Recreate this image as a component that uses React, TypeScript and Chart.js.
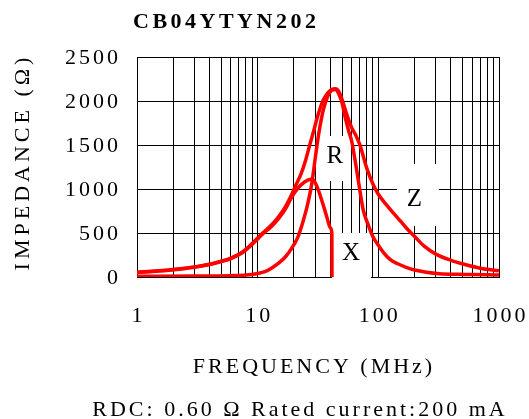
import React, { useEffect, useRef } from 'react';
import { Chart, registerables } from 'chart.js';

Chart.register(...registerables);

const chartTitle = 'CB04YTYN202';
const xAxisTitle = 'FREQUENCY (MHz)';
const yAxisTitle = 'IMPEDANCE (Ω)';
const footNote = 'RDC: 0.60 Ω Rated current:200 mA';

const xTickValues = [1, 10, 100, 1000];
const xTickLabels = ['1', '10', '100', '1000'];
const yTickValues = [0, 500, 1000, 1500, 2000, 2500];
const yTickLabels = ['0', '500', '1000', '1500', '2000', '2500'];
const xGridValues = [
  1, 2, 3, 4, 5, 6, 7, 8, 9,
  10, 20, 30, 40, 50, 60, 70, 80, 90,
  100, 200, 300, 400, 500, 600, 700, 800, 900, 1000,
];

// Z (impedance)
const zFreq = [1, 1.5, 2, 3, 4, 5, 6, 7.5, 9, 11, 13, 15, 17, 19, 21, 23, 25, 27, 29, 31, 33, 35, 38, 41, 44, 47, 50, 55, 60, 65, 70, 80, 90, 100, 120, 145, 170, 200, 240, 300, 400, 500, 700, 1000];
const zValues = [55, 70, 85, 115, 145, 180, 215, 285, 380, 500, 590, 690, 800, 930, 1060, 1180, 1330, 1500, 1650, 1800, 1920, 2010, 2090, 2130, 2140, 2110, 2020, 1840, 1700, 1610, 1510, 1240, 1060, 940, 800, 670, 560, 460, 350, 260, 190, 150, 100, 70];

// R (resistance)
const rFreq = [1, 3, 6, 8, 10, 11.5, 13, 15, 17, 19, 21.5, 24, 26, 28, 30, 32, 35, 38, 41, 44, 47, 50, 53, 57, 60, 65, 70, 75, 82, 90, 100, 110, 125, 145, 170, 200, 250, 320, 450, 600, 800, 1000];
const rValues = [8, 10, 15, 22, 40, 60, 100, 160, 230, 320, 450, 650, 830, 1050, 1350, 1620, 1900, 2050, 2120, 2130, 2080, 1980, 1820, 1650, 1550, 1280, 1000, 760, 600, 460, 360, 280, 200, 150, 110, 80, 55, 38, 30, 28, 25, 22];

// X (reactance)
const xFreq = [1, 1.5, 2, 3, 4, 5, 6, 7.5, 9, 11, 13, 15, 17, 19, 21, 23, 26, 28, 30, 32, 34, 36, 38, 40, 41.2, 41.3];
const xValues = [52, 68, 83, 112, 142, 176, 210, 278, 370, 488, 575, 670, 775, 900, 990, 1050, 1100, 1110, 1070, 980, 870, 760, 650, 560, 500, 0];

const curveLabels = ['R', 'Z', 'X'];
const labelFreq = [43.7, 199, 59.3];
const labelImpedance = [1386, 892, 278];

const RED = '#ff0000';

function toPoints(fs: number[], vs: number[]) {
  return fs.map((f, i) => ({ x: f, y: vs[i] }));
}

export default function App() {
  const canvasRef = useRef<HTMLCanvasElement | null>(null);

  useEffect(() => {
    const canvas = canvasRef.current;
    if (!canvas) return;

    const labelBoxPlugin = {
      id: 'labelBoxes',
      beforeDatasetsDraw(chart: any) {
        const { ctx } = chart;
        const xs = chart.scales.x;
        const ys = chart.scales.y;
        // box extents relative to text centre: left, top, right, bottom
        const boxes = [
          [-17, -19, 16, 26],
          [-17.5, -34.5, 24.5, 27.5],
          [-19, -19.5, 20, 28.5],
        ];
        ctx.save();
        curveLabels.forEach((lab, i) => {
          const px = xs.getPixelForValue(labelFreq[i]);
          const py = ys.getPixelForValue(labelImpedance[i]);
          const b = boxes[i];
          ctx.fillStyle = '#ffffff';
          ctx.fillRect(px + b[0], py + b[1], b[2] - b[0], b[3] - b[1]);
          ctx.fillStyle = '#000000';
          ctx.font = '25px "Liberation Serif"';
          ctx.textAlign = 'center';
          ctx.textBaseline = 'middle';
          ctx.fillText(lab, px, py + 1);
        });
        ctx.restore();
      },
    };

    const textPlugin = {
      id: 'texts',
      afterDraw(chart: any) {
        const { ctx } = chart;
        const xs = chart.scales.x;
        const ys = chart.scales.y;
        ctx.save();
        ctx.fillStyle = '#000000';
        ctx.font = '22px "Liberation Serif"';
        (ctx as any).letterSpacing = '3px';
        ctx.textBaseline = 'middle';
        ctx.textAlign = 'right';
        yTickValues.forEach((v, i) => {
          ctx.fillText(yTickLabels[i], 121, ys.getPixelForValue(v) + 1);
        });
        ctx.textAlign = 'center';
        xTickValues.forEach((v, i) => {
          ctx.fillText(xTickLabels[i], xs.getPixelForValue(v) + 1.5, 316);
        });
        ctx.fillText(xAxisTitle, 314, 367);
        ctx.fillText(footNote, 300, 410);
        ctx.save();
        (ctx as any).letterSpacing = '4px';
        ctx.translate(23, 162);
        ctx.rotate(-Math.PI / 2);
        ctx.fillText(yAxisTitle, 0, 0);
        ctx.restore();
        ctx.font = 'bold 22px "Liberation Serif"';
        (ctx as any).letterSpacing = '3.5px';
        ctx.textAlign = 'left';
        ctx.fillText(chartTitle, 133, 22);
        ctx.restore();
      },
    };

    const mk = (fs: number[], vs: number[], label: string) => ({
      label,
      data: toPoints(fs, vs),
      borderColor: RED,
      backgroundColor: RED,
      borderWidth: 3.5,
      pointRadius: 0,
      fill: false,
      cubicInterpolationMode: 'monotone' as const,
    });

    const chart = new Chart(canvas, {
      type: 'line',
      data: {
        datasets: [
          mk(zFreq, zValues, 'Z'),
          mk(rFreq, rValues, 'R'),
          mk(xFreq, xValues, 'X'),
        ],
      },
      options: {
        animation: false,
        responsive: true,
        maintainAspectRatio: false,
        layout: { padding: { left: 137, top: 57, right: 30, bottom: 142 } },
        plugins: {
          legend: { display: false },
          tooltip: { enabled: false },
        },
        scales: {
          x: {
            type: 'logarithmic',
            min: 1,
            max: 1000,
            afterBuildTicks: (scale: any) => {
              scale.ticks = xGridValues.map((v) => ({ value: v }));
            },
            ticks: { display: false },
            grid: { color: '#000000', lineWidth: 1, drawTicks: false },
            border: { display: true, color: '#000000', width: 1 },
          },
          y: {
            type: 'linear',
            min: 0,
            max: 2500,
            ticks: { display: false, stepSize: 500 },
            grid: { color: '#000000', lineWidth: 1, drawTicks: false },
            border: { display: true, color: '#000000', width: 1 },
          },
        },
      },
      plugins: [labelBoxPlugin, textPlugin],
    });

    return () => chart.destroy();
  }, []);

  return (
    <div style={{ position: 'absolute', left: 0, top: 0, width: 529, height: 419, background: '#ffffff' }}>
      <canvas ref={canvasRef} />
    </div>
  );
}
